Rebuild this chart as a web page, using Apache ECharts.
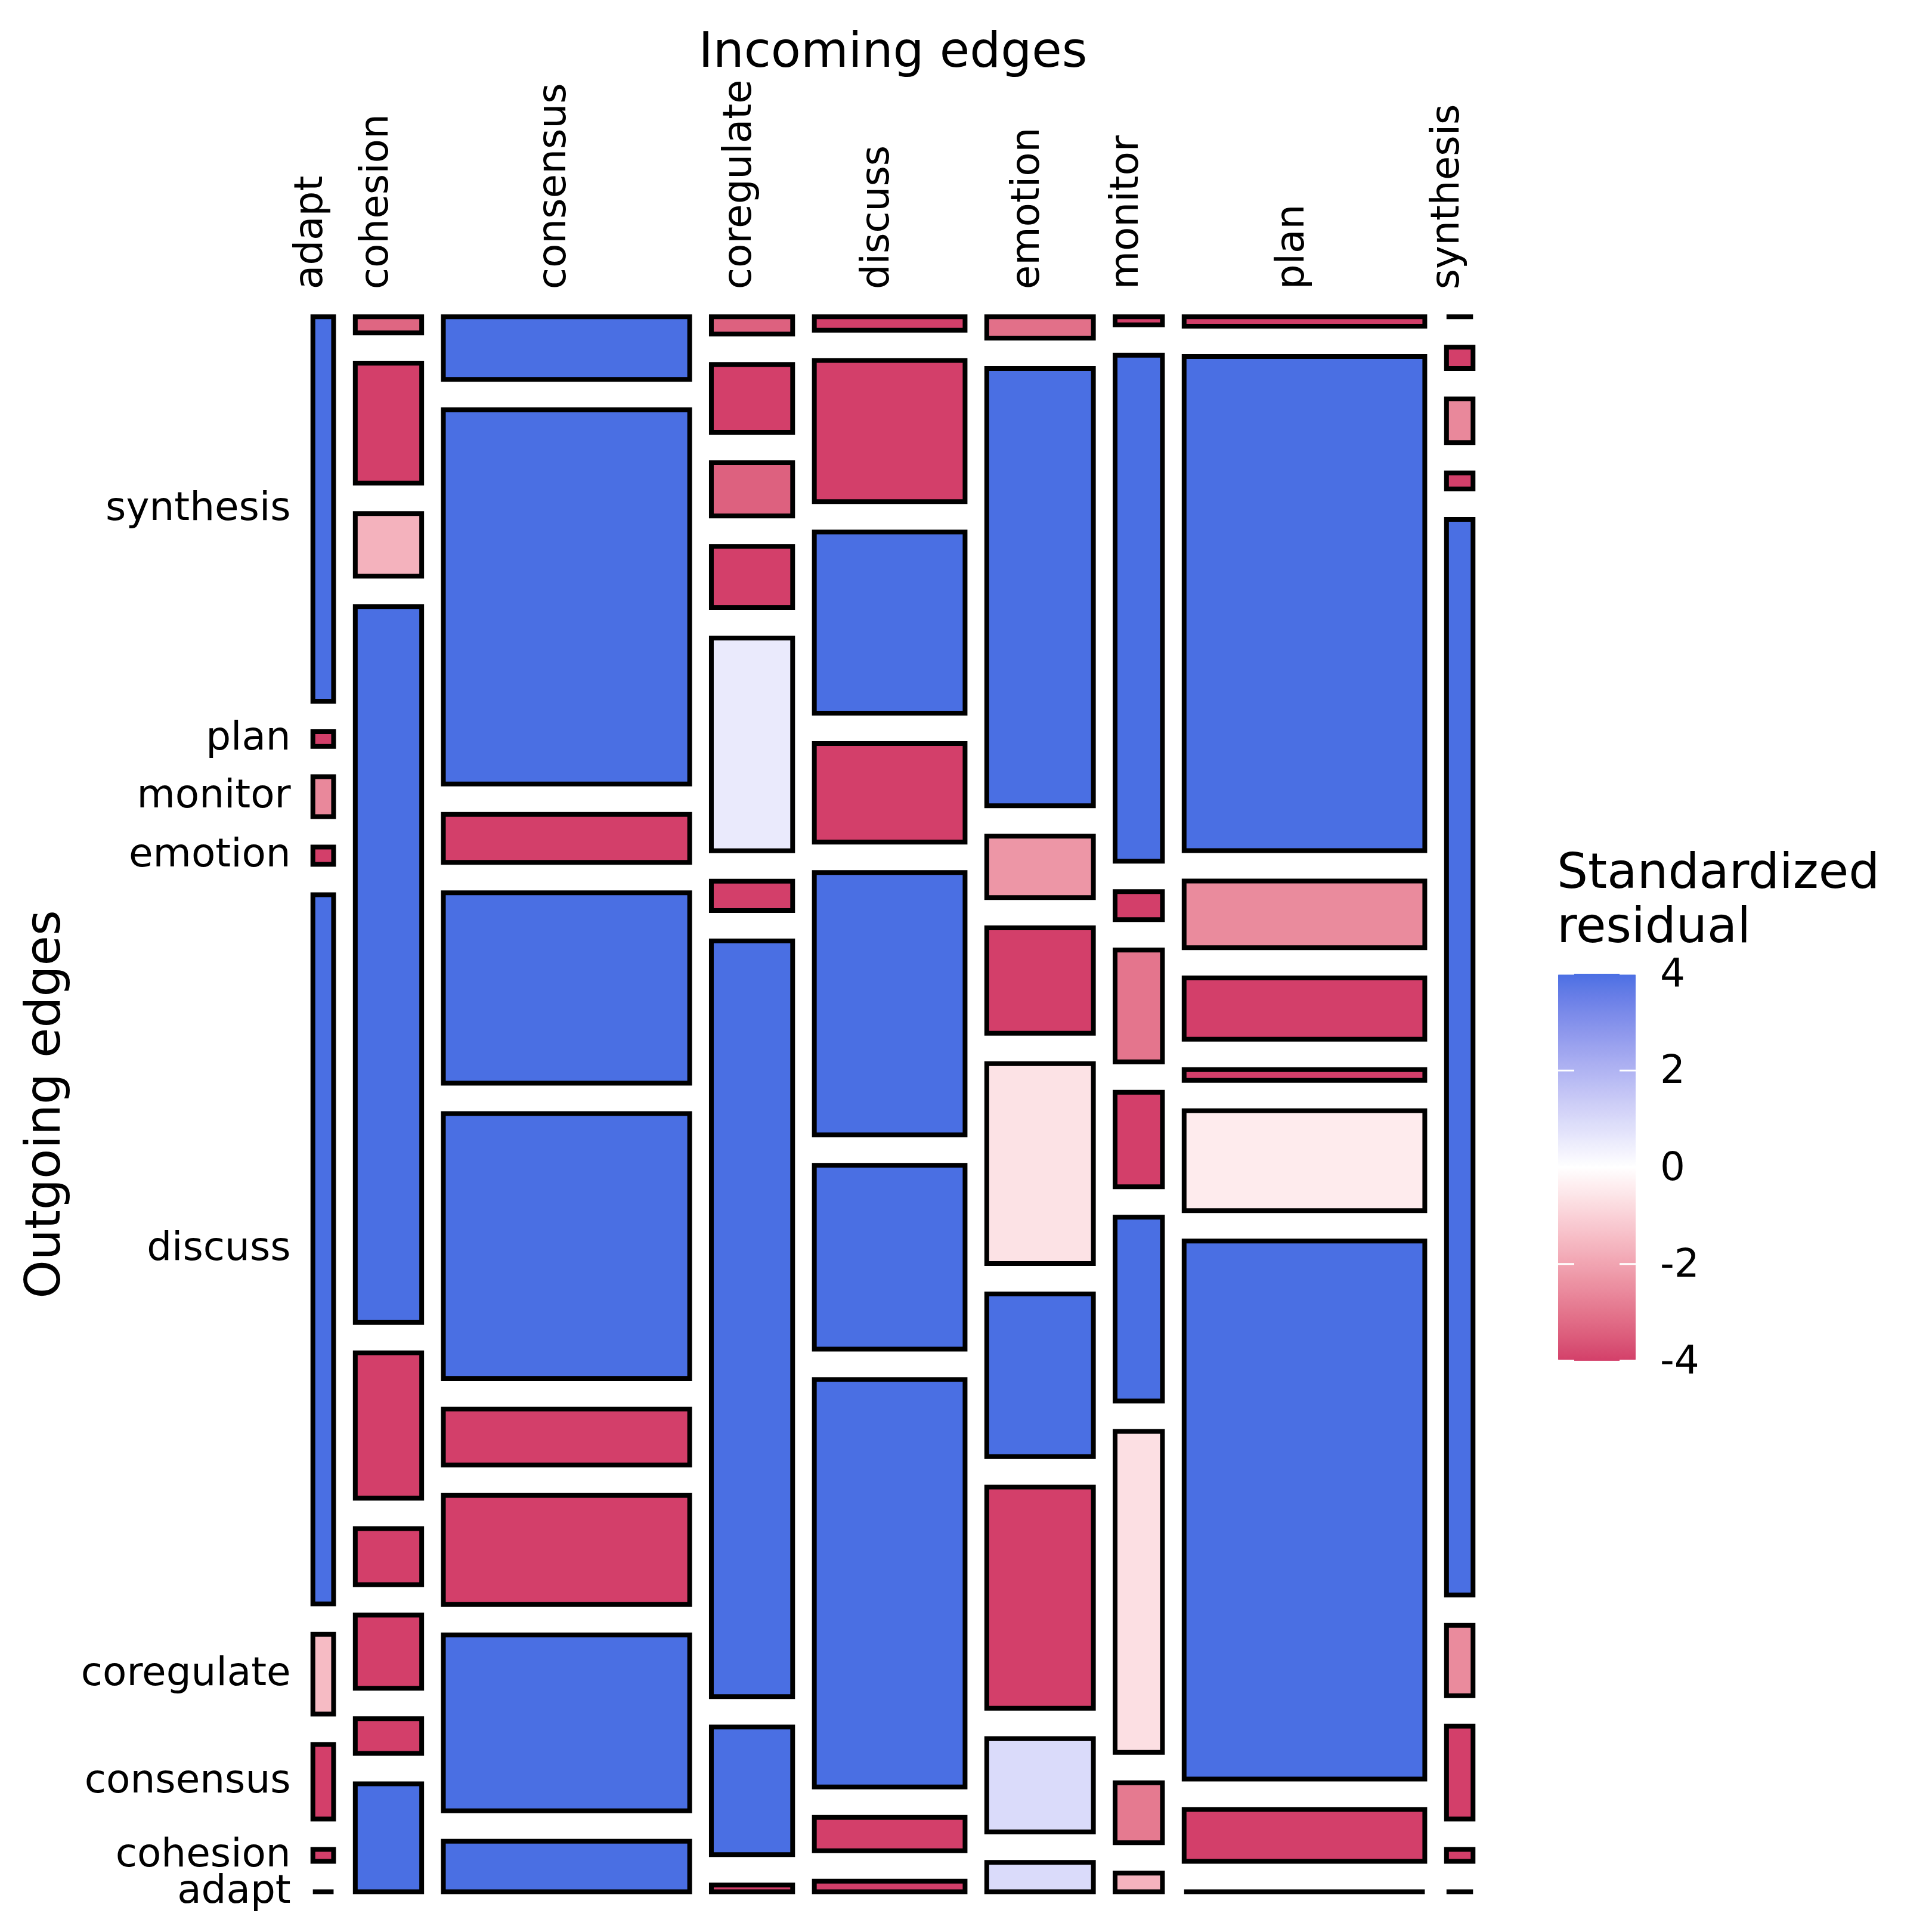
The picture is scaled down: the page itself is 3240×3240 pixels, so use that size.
<!DOCTYPE html>
<html>
<head>
<meta charset="utf-8">
<script src="https://cdn.jsdelivr.net/npm/echarts@6.0.0/dist/echarts.min.js"></script>
<style>
  html, body { margin: 0; padding: 0; background: #ffffff; }
  #chart { width: 3240px; height: 3240px; }
</style>
</head>
<body>
<div id="chart"></div>
<script>
// ---------------- DATA ----------------
// Incoming edges = columns (left to right)
const incoming = ['adapt', 'cohesion', 'consensus', 'coregulate', 'discuss', 'emotion', 'monitor', 'plan', 'synthesis'];
// Outgoing edges = rows (bottom to top)
const outgoing = ['adapt', 'cohesion', 'consensus', 'coregulate', 'discuss', 'emotion', 'monitor', 'plan', 'synthesis'];

// Share of all transitions going into each column (%), i.e. column widths
const columnShare = [2.10, 6.73, 24.97, 8.24, 15.28, 10.81, 4.80, 24.40, 2.69];

// Within each incoming column: share (%) of each outgoing row, bottom to top
const cellShare = [
  [0.0, 0.9, 5.6, 6.0, 53.3, 1.3, 3.0, 1.1, 28.9],     // adapt
  [8.1, 2.6, 5.5, 4.2, 10.9, 53.7, 4.7, 9.0, 1.2],     // cohesion
  [3.8, 13.2, 8.2, 4.2, 19.9, 14.3, 3.6, 28.1, 4.7],   // consensus
  [0.5, 9.6, 56.8, 2.2, 16.0, 4.6, 4.0, 5.1, 1.3],     // coregulate
  [0.8, 2.5, 30.6, 13.8, 19.7, 7.4, 13.6, 10.6, 1.0],  // discuss
  [2.2, 7.0, 16.6, 12.2, 15.0, 7.9, 4.6, 32.8, 1.6],   // emotion
  [1.4, 4.5, 24.1, 13.8, 7.1, 8.4, 2.1, 38.0, 0.6],    // monitor
  [0.0, 3.9, 40.4, 7.5, 0.8, 4.6, 5.0, 37.1, 0.7],     // plan
  [0.0, 0.9, 7.0, 5.3, 81.0, 1.2, 3.3, 1.6, 0.0]       // synthesis
];

// Standardized residuals (clamped to the +-4 colour range), same layout as cellShare
const residual = [
  [-1.0, -4.0, -4.0, -1.5, 4.0, -4.0, -2.6, -4.0, 4.0],
  [4.0, -4.0, -4.0, -4.0, -4.0, 4.0, -1.7, -4.0, -3.3],
  [4.0, 4.0, -4.0, -4.0, 4.0, 4.0, -4.0, 4.0, 4.0],
  [-4.0, 4.0, 4.0, -4.0, 0.55, -4.0, -3.4, -4.0, -3.4],
  [-4.0, -4.0, 4.0, 4.0, 4.0, -4.0, 4.0, -4.0, -4.0],
  [0.95, 0.95, -4.0, 4.0, -0.65, -4.0, -2.3, 4.0, -3.1],
  [-1.7, -2.9, -0.7, 4.0, -4.0, -3.0, -4.0, 4.0, -4.0],
  [-1.0, -4.0, 4.0, -0.45, -4.0, -4.0, -2.55, 4.0, -4.0],
  [-1.0, -4.0, -4.0, -2.55, 4.0, -4.0, -2.6, -4.0, -1.0]
];

const legendTicks = [4, 2, 0, -2, -4];

// ---------------- colour scale (Lab interpolation like ggplot2) ----------------
const LOW = '#D33F6A', MID = '#FFFFFF', HIGH = '#4A6FE3';
function hexToRgb(h) { h = h.replace('#', ''); return [0, 2, 4].map(i => parseInt(h.substr(i, 2), 16)); }
function toLin(c) { c /= 255; return c <= 0.04045 ? c / 12.92 : Math.pow((c + 0.055) / 1.055, 2.4); }
function toS(c) { c = c <= 0.0031308 ? 12.92 * c : 1.055 * Math.pow(c, 1 / 2.4) - 0.055; return Math.round(Math.max(0, Math.min(1, c)) * 255); }
const Xn = 0.95047, Yn = 1.0, Zn = 1.08883;
function fLab(t) { return t > 0.008856 ? Math.cbrt(t) : 7.787 * t + 16 / 116; }
function fInv(t) { return t > 0.206893 ? t * t * t : (t - 16 / 116) / 7.787; }
function rgbToLab(rgb) {
  const [R, G, B] = rgb.map(toLin);
  const X = 0.4124564 * R + 0.3575761 * G + 0.1804375 * B;
  const Y = 0.2126729 * R + 0.7151522 * G + 0.0721750 * B;
  const Z = 0.0193339 * R + 0.1191920 * G + 0.9503041 * B;
  const fx = fLab(X / Xn), fy = fLab(Y / Yn), fz = fLab(Z / Zn);
  return [116 * fy - 16, 500 * (fx - fy), 200 * (fy - fz)];
}
function labToHex(lab) {
  const fy = (lab[0] + 16) / 116, fx = fy + lab[1] / 500, fz = fy - lab[2] / 200;
  const X = Xn * fInv(fx), Y = Yn * fInv(fy), Z = Zn * fInv(fz);
  const R = 3.2404542 * X - 1.5371385 * Y - 0.4985314 * Z;
  const G = -0.9692660 * X + 1.8760108 * Y + 0.0415560 * Z;
  const B = 0.0556434 * X - 0.2040259 * Y + 1.0572252 * Z;
  return '#' + [R, G, B].map(c => toS(c).toString(16).padStart(2, '0')).join('');
}
const labLow = rgbToLab(hexToRgb(LOW)), labMid = rgbToLab(hexToRgb(MID)), labHigh = rgbToLab(hexToRgb(HIGH));
function colourAt(v) {
  const t = Math.min(1, Math.abs(v) / 4);
  const end = v < 0 ? labLow : labHigh;
  return labToHex(labMid.map((m, k) => m + (end[k] - m) * t));
}
const colourStops = [];
for (let k = 0; k <= 80; k++) colourStops.push(colourAt(-4 + k * 0.1));

// ---------------- mosaic layout (in 0..1 axis units) ----------------
const GAP_X = 0.0187, GAP_Y = 0.0193;
const sum = a => a.reduce((s, v) => s + v, 0);
const cells = [];
const rowLabelPos = [];
const colLabelPos = [];
(function buildLayout() {
  const totW = sum(columnShare);
  const contentX = 1 - GAP_X * (incoming.length - 1);
  const contentY = 1 - GAP_Y * (outgoing.length - 1);
  let x = 0;
  incoming.forEach((col, i) => {
    const w = columnShare[i] / totW * contentX;
    const tot = sum(cellShare[i]);
    let y = 0;
    outgoing.forEach((row, j) => {
      const h = cellShare[i][j] / tot * contentY;
      cells.push({ name: row + ' \u2192 ' + col, value: [x, x + w, y, y + h, residual[i][j]] });
      if (i === 0) rowLabelPos.push([0, y + h / 2]);
      y += h + GAP_Y;
    });
    colLabelPos.push([x + w / 2, 1]);
    x += w + GAP_X;
  });
})();

// ---------------- chart ----------------
const FONT = 'DejaVu Sans';
const chart = echarts.init(document.getElementById('chart'), null, { renderer: 'canvas', width: 3240, height: 3240 });

// legend geometry
const LEG = { left: 2613, top: 1633, w: 130, h: 649 };
const legendGraphics = [];
legendGraphics.push({ type: 'text', x: 2611, y: 1468, style: { text: 'Standardized', font: '82px "' + FONT + '"', fill: '#000', align: 'left', verticalAlign: 'middle' } });
legendGraphics.push({ type: 'text', x: 2611, y: 1559, style: { text: 'residual', font: '82px "' + FONT + '"', fill: '#000', align: 'left', verticalAlign: 'middle' } });
legendTicks.forEach(v => {
  const ty = LEG.top + (4 - v) / 8 * LEG.h;
  legendGraphics.push({ type: 'line', z: 100, shape: { x1: LEG.left, y1: ty, x2: LEG.left + 27, y2: ty }, style: { stroke: '#ffffff', lineWidth: 3 } });
  legendGraphics.push({ type: 'line', z: 100, shape: { x1: LEG.left + LEG.w - 27, y1: ty, x2: LEG.left + LEG.w, y2: ty }, style: { stroke: '#ffffff', lineWidth: 3 } });
  legendGraphics.push({ type: 'text', x: 2784, y: ty + 4, style: { text: String(v), font: '66px "' + FONT + '"', fill: '#000', align: 'left', verticalAlign: 'middle' } });
});
// axis titles
legendGraphics.push({ type: 'text', x: 1497.5, y: 91, style: { text: 'Incoming edges', font: '82px "' + FONT + '"', fill: '#000', align: 'center', verticalAlign: 'middle' } });
legendGraphics.push({ type: 'text', x: 79, y: 1852, rotation: Math.PI / 2, style: { text: 'Outgoing edges', font: '82px "' + FONT + '"', fill: '#000', align: 'center', verticalAlign: 'middle' } });

chart.setOption({
  animation: false,
  backgroundColor: '#ffffff',
  grid: { left: 524.7, right: 769.7, top: 531.3, bottom: 67.5, containLabel: false },
  xAxis: { type: 'value', min: 0, max: 1, show: false },
  yAxis: { type: 'value', min: 0, max: 1, show: false },
  visualMap: {
    type: 'continuous', min: -4, max: 4, dimension: 4, seriesIndex: 0,
    calculable: false, hoverLink: false, show: true, orient: 'vertical',
    left: LEG.left, top: LEG.top, itemWidth: LEG.w, itemHeight: LEG.h, padding: 0,
    inRange: { color: colourStops }
  },
  graphic: legendGraphics,
  series: [
    {
      type: 'custom', silent: true, clip: false,
      data: cells,
      renderItem: function (params, api) {
        const tl = api.coord([api.value(0), api.value(3)]);
        const br = api.coord([api.value(1), api.value(2)]);
        return {
          type: 'rect',
          shape: { x: tl[0], y: tl[1], width: br[0] - tl[0], height: br[1] - tl[1] },
          style: { fill: api.visual('color'), stroke: '#000000', lineWidth: 8, lineJoin: 'miter' }
        };
      }
    },
    {
      type: 'custom', silent: true, clip: false,
      data: rowLabelPos,
      renderItem: function (params, api) {
        const p = api.coord([api.value(0), api.value(1)]);
        return {
          type: 'text', x: p[0] - 37, y: p[1] + 1,
          style: { text: outgoing[params.dataIndex], font: '66px "' + FONT + '"', fill: '#000', align: 'right', verticalAlign: 'middle' }
        };
      }
    },
    {
      type: 'custom', silent: true, clip: false,
      data: colLabelPos,
      renderItem: function (params, api) {
        const p = api.coord([api.value(0), api.value(1)]);
        return {
          type: 'text', x: p[0] - 19, y: p[1] - 46, rotation: Math.PI / 2,
          style: { text: incoming[params.dataIndex], font: '66px "' + FONT + '"', fill: '#000', align: 'left', verticalAlign: 'middle' }
        };
      }
    }
  ]
});
</script>
</body>
</html>
